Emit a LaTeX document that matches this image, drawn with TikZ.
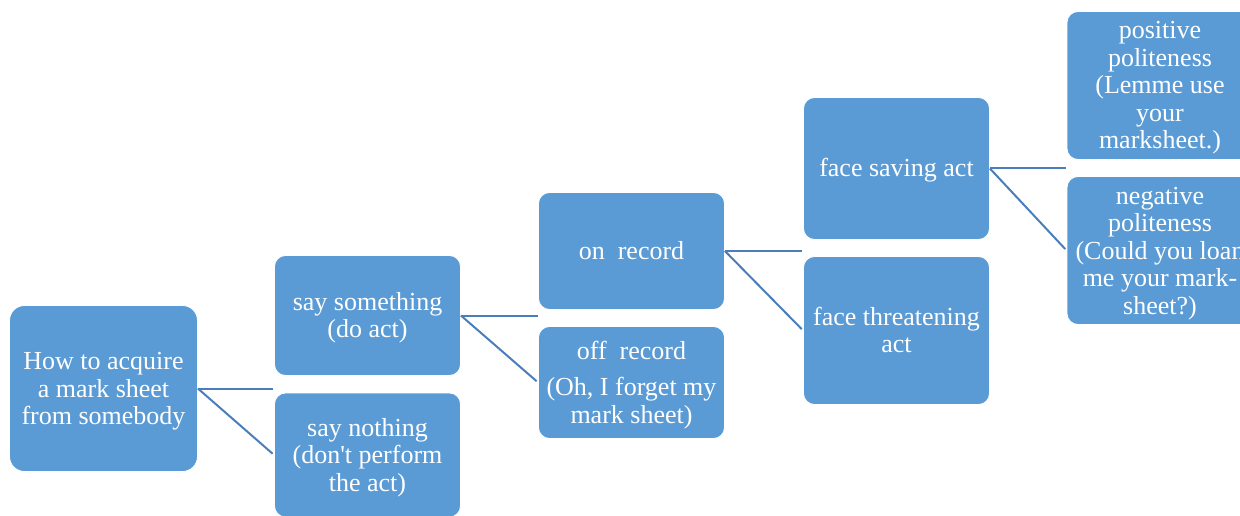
\documentclass[tikz,border=0pt]{standalone}
\usepackage{fontspec}
\setmainfont{Liberation Serif}
\definecolor{boxblue}{HTML}{5B9BD5}
\definecolor{lineblue}{HTML}{4A7EBB}
\newcommand\boxtext[1]{\raisebox{-3pt}[\height][\depth]{\begin{tabular}{@{}c@{}}#1\end{tabular}}}
\begin{document}
\begin{tikzpicture}[x=1pt,y=-1pt,
  box/.style={rectangle, rounded corners=11pt, fill=boxblue, draw=white, line width=0.8pt,
    text=white, inner sep=0pt, minimum width=186pt,
    font=\fontsize{26}{27.5}\selectfont},
  link/.style={draw=lineblue, line width=2pt}]
\useasboundingbox (0,0) rectangle (1240,516);
\clip (0,0) rectangle (1240,516);
\node[box, minimum width=188pt, minimum height=166pt, rounded corners=15pt] (A) at (103.5,388.5) {\boxtext{How to acquire\\a mark sheet\\from somebody}};
\node[box, minimum height=120pt] (B1) at (367.5,315.5) {\boxtext{say something\\(do act)}};
\node[box, minimum height=124pt] (B2) at (367.5,455) {\boxtext{say nothing\\(don\textquotesingle t perform\\the act)}};
\node[box, minimum height=117pt] (C1) at (631.5,251) {\boxtext{on~~record}};
\node[box, minimum height=112pt] (C2) at (631.5,382.5) {\boxtext{off~~record\\[9pt](Oh, I forget my\\mark sheet)}};
\node[box, minimum height=142pt] (D1) at (896.5,168.5) {\boxtext{face saving act}};
\node[box, minimum height=148pt] (D2) at (896.5,330.5) {\boxtext{face threatening\\act}};
\node[box, minimum height=148pt] (E1) at (1160,85.5) {\boxtext{positive\\politeness\\(Lemme use\\your\\marksheet.)}};
\node[box, minimum height=148pt] (E2) at (1160,250.5) {\boxtext{negative\\politeness\\(Could you loan\\me your mark-\\sheet?)}};
\coordinate (jA) at (273,388.5);
\coordinate (jB) at (538,315.5);
\coordinate (jC) at (802,251);
\coordinate (jD) at (1066,168.5);
\draw[link] (A.east) -- (jA);
\draw[link, shorten >=2pt] (A.east) -- (B2.west);
\draw[link] (B1.east) -- (jB);
\draw[link, shorten >=2pt] (B1.east) -- (C2.west);
\draw[link] (C1.east) -- (jC);
\draw[link, shorten >=2pt] (C1.east) -- (D2.west);
\draw[link] (D1.east) -- (jD);
\draw[link, shorten >=2pt] (D1.east) -- (E2.west);
\end{tikzpicture}
\end{document}
